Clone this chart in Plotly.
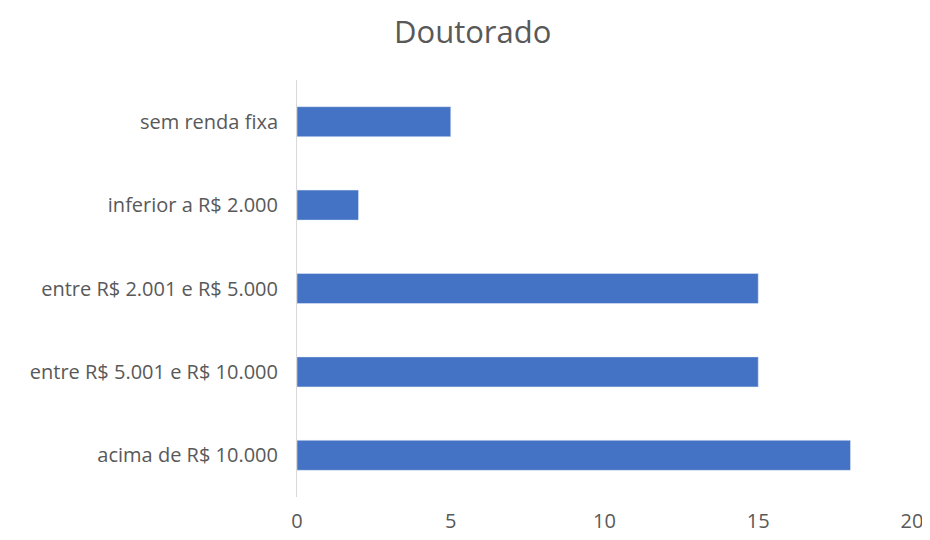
import plotly.graph_objects as go

categorias = [
    "acima de R$ 10.000",
    "entre R$ 5.001 e R$ 10.000",
    "entre R$ 2.001 e R$ 5.000",
    "inferior a R$ 2.000",
    "sem renda fixa",
]
valores = [18, 15, 15, 2, 5]
ticks_x = [0, 5, 10, 15, 20]

fig = go.Figure(go.Bar(
    x=valores, y=categorias, orientation="h",
    marker_color="#4472C4", width=0.36,
))
# a página tem margem de 8px no body, por isso a figura é um pouco menor
fig.update_layout(
    title=dict(text="Doutorado", x=0.504, xanchor="center", y=0.955, yanchor="middle",
               font=dict(size=31, color="#595959")),
    font=dict(family="Open Sans, Liberation Sans, sans-serif", size=20, color="#595959"),
    width=922, height=532,
    margin=dict(l=289, r=18, t=72, b=43),
    plot_bgcolor="white", paper_bgcolor="white",
    showlegend=False,
)
fig.update_xaxes(range=[0, 20], tickvals=ticks_x, showgrid=False, zeroline=False,
                 showline=False, ticklabelstandoff=10, automargin=False)
fig.update_yaxes(range=[-0.5, 4.5], showgrid=False, showline=True, linecolor="#D9D9D9",
                 linewidth=1, ticklabelstandoff=14, automargin=False)
fig.write_html("out.html")
